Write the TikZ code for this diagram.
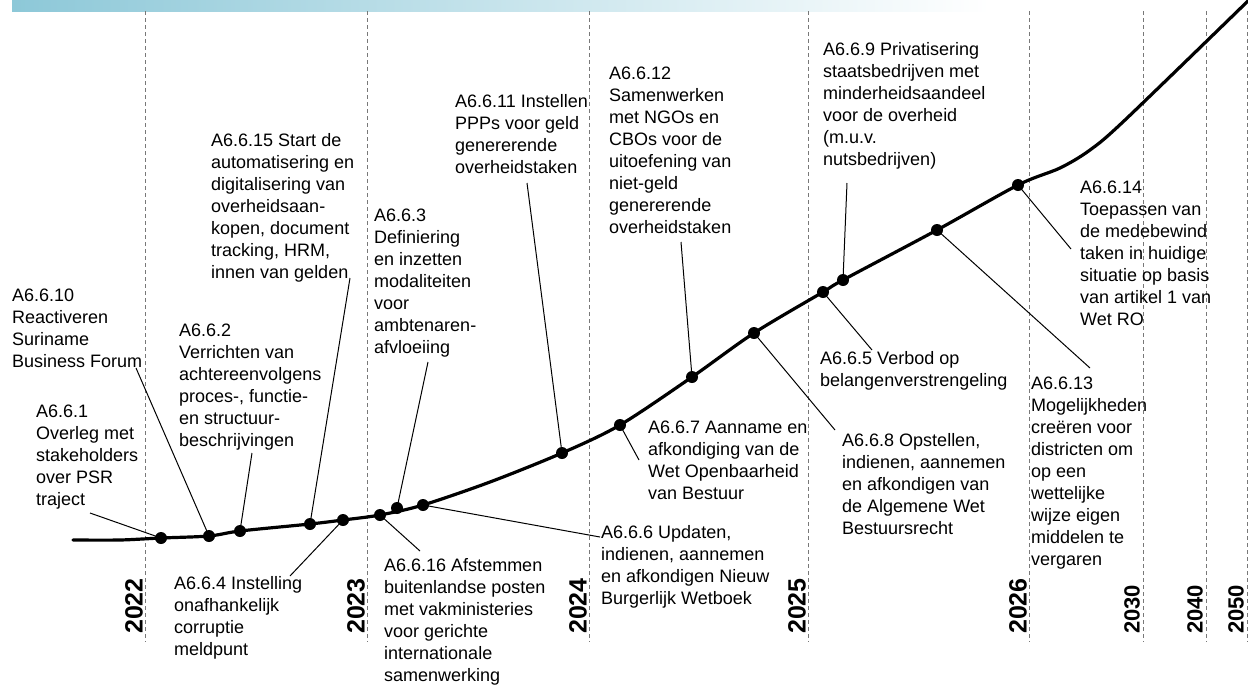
\documentclass[tikz,border=0pt]{standalone}
\usepackage{fontspec}
\setmainfont{Liberation Sans}
\newcommand\mylines[1]{\begin{tabular}[t]{@{}l@{}}#1\end{tabular}}
\definecolor{barblue}{RGB}{141,200,216}
\definecolor{dashgray}{RGB}{120,120,120}
\begin{document}
\begin{tikzpicture}[x=1pt,y=-1pt,
  lbl/.style={anchor=base west,inner sep=0pt,font=\fontsize{18}{22}\selectfont},
  yearbig/.style={rotate=90,anchor=south west,inner sep=0pt,font=\fontsize{25}{25}\selectfont\bfseries},
  yearsmall/.style={rotate=90,anchor=south west,inner sep=0pt,font=\fontsize{22}{22}\selectfont\bfseries},
  dot/.style={circle,fill=black,inner sep=0pt,minimum size=12pt},
  leader/.style={draw=black,line width=1pt},
  yearline/.style={draw=dashgray,line width=0.8pt,dash pattern=on 4pt off 3pt},
  timeline/.style={draw=black,line width=3.2pt,line cap=round}]
\useasboundingbox[fill=white] (0,0) rectangle (1248,694);
% top bar
\shade[left color=barblue,right color=white] (12,0) rectangle (990,11);
% year lines
\foreach \x/\n in {145/y22,367/y23,589/y24,808/y25,1029/y26,1143/y30,1206/y40,1247/y50}{
  \coordinate (\n t) at (\x,11);
  \coordinate (\n b) at (\x,642);
  \draw[yearline] (\n t) -- (\n b);
}
% years
\node[yearbig] (t22) at (143,634) {2022};
\node[yearbig] (t23) at (365,634) {2023};
\node[yearbig] (t24) at (587,634) {2024};
\node[yearbig] (t25) at (806,634) {2025};
\node[yearbig] (t26) at (1027,634) {2026};
\node[yearsmall] (t30) at (1140,634) {2030};
\node[yearsmall] (t40) at (1203,634) {2040};
\node[yearsmall] (t50) at (1244,634) {2050};
% timeline
\draw[timeline] plot[smooth,tension=0.5] coordinates {(73,540) (120,540) (161,538) (209,536) (240,531) (310,524) (343,520) (380,515) (423,505) (490,482) (562,453) (620,425) (692,377) (754,333) (823,292) (843,280) (937,230) (1018,185) (1060,168) (1090,150) (1125,120) (1250,-1)};
% dots
\node[dot] (d1) at (161,538) {};
\node[dot] (d2) at (209,536) {};
\node[dot] (d3) at (240,531) {};
\node[dot] (d4) at (310,524) {};
\node[dot] (d5) at (343,520) {};
\node[dot] (d6) at (380,515) {};
\node[dot] (d7) at (397,508) {};
\node[dot] (d8) at (423,505) {};
\node[dot] (d9) at (562,453) {};
\node[dot] (d10) at (620,425) {};
\node[dot] (d11) at (692,377) {};
\node[dot] (d12) at (754,333) {};
\node[dot] (d13) at (823,292) {};
\node[dot] (d14) at (843,280) {};
\node[dot] (d15) at (937,230) {};
\node[dot] (d16) at (1018,185) {};
% labels
\node[lbl] (a10) at (12,301) {\mylines{A6.6.10\\Reactiveren\\Suriname\\Business Forum}};
\node[lbl] (a1) at (36,417) {\mylines{A6.6.1\\Overleg met\\stakeholders\\over PSR\\traject}};
\node[lbl] (a2) at (179,336) {\mylines{A6.6.2\\Verrichten van\\achtereenvolgens\\proces-, functie-\\en structuur-\\beschrijvingen}};
\node[lbl] (a15) at (211,146) {\mylines{A6.6.15 Start de\\automatisering en\\digitalisering van\\overheidsaan-\\kopen, document\\tracking, HRM,\\innen van gelden}};
\node[lbl] (a3) at (374,221) {\mylines{A6.6.3\\Definiering\\en inzetten\\modaliteiten\\voor\\ambtenaren-\\afvloeiing}};
\node[lbl] (a11) at (455,107) {\mylines{A6.6.11 Instellen\\PPPs voor geld\\genererende\\overheidstaken}};
\node[lbl] (a12) at (609,79) {\mylines{A6.6.12\\Samenwerken\\met NGOs en\\CBOs voor de\\uitoefening van\\niet-geld\\genererende\\overheidstaken}};
\node[lbl] (a9) at (823,55) {\mylines{A6.6.9 Privatisering\\staatsbedrijven met\\minderheidsaandeel\\voor de overheid\\(m.u.v.\\nutsbedrijven)}};
\node[lbl] (a14) at (1080,193) {\mylines{A6.6.14\\Toepassen van\\de medebewind\\taken in huidige\\situatie op basis\\van artikel 1 van\\Wet RO}};
\node[lbl] (a5) at (820,364) {\mylines{A6.6.5 Verbod op\\belangenverstrengeling}};
\node[lbl] (a8) at (842,446) {\mylines{A6.6.8 Opstellen,\\indienen, aannemen\\en afkondigen van\\de Algemene Wet\\Bestuursrecht}};
\node[lbl] (a13) at (1031,389) {\mylines{A6.6.13\\Mogelijkheden\\creëren voor\\districten om\\op een\\wettelijke\\wijze eigen\\middelen te\\vergaren}};
\node[lbl] (a7) at (648,433) {\mylines{A6.6.7 Aanname en\\afkondiging van de\\Wet Openbaarheid\\van Bestuur}};
\node[lbl] (a6) at (601,538) {\mylines{A6.6.6 Updaten,\\indienen, aannemen\\en afkondigen Nieuw\\Burgerlijk Wetboek}};
\node[lbl] (a16) at (384,571) {\mylines{A6.6.16 Afstemmen\\buitenlandse posten\\met vakministeries\\voor gerichte\\internationale\\samenwerking}};
\node[lbl] (a4) at (174,589) {\mylines{A6.6.4 Instelling\\onafhankelijk\\corruptie\\meldpunt}};
% leader start points
\coordinate (l1) at (90,513);
\coordinate (l10) at (136,368);
\coordinate (l2) at (252,453);
\coordinate (l15) at (350,278);
\coordinate (l4) at (290,576);
\coordinate (l16) at (420,551);
\coordinate (l3) at (428,362);
\coordinate (l6) at (600,537);
\coordinate (l11) at (527,183);
\coordinate (l7) at (639,460);
\coordinate (l12) at (681,242);
\coordinate (l8) at (835,430);
\coordinate (l5) at (872,350);
\coordinate (l9) at (847,183);
\coordinate (l13) at (1090,368);
\coordinate (l14) at (1071,249);
\draw[leader] (l1) -- (d1.center);
\draw[leader] (l10) -- (d2.center);
\draw[leader] (l2) -- (d3.center);
\draw[leader] (l15) -- (d4.center);
\draw[leader] (l4) -- (d5.center);
\draw[leader] (l16) -- (d6.center);
\draw[leader] (l3) -- (d7.center);
\draw[leader] (l6) -- (d8.center);
\draw[leader] (l11) -- (d9.center);
\draw[leader] (l7) -- (d10.center);
\draw[leader] (l12) -- (d11.center);
\draw[leader] (l8) -- (d12.center);
\draw[leader] (l5) -- (d13.center);
\draw[leader] (l9) -- (d14.center);
\draw[leader] (l13) -- (d15.center);
\draw[leader] (l14) -- (d16.center);
\end{tikzpicture}
\end{document}
